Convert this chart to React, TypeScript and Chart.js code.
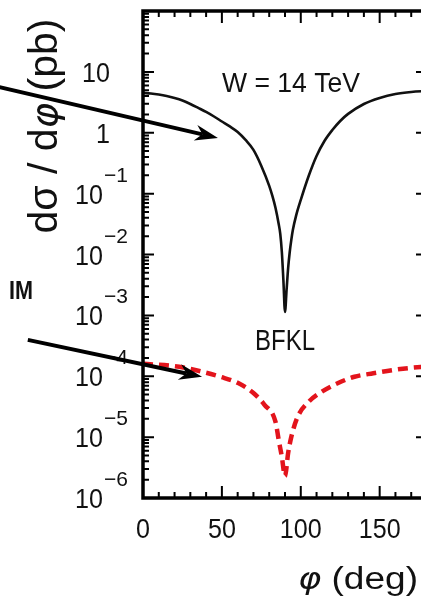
import React, { useEffect, useRef } from "react";
import { Chart, registerables } from "chart.js";

Chart.register(...registerables);

// ---------------- data ----------------
const bfklPhi = [0, 5, 10, 15, 20, 25, 30, 35, 40, 45, 50, 55, 60, 65, 70, 75, 80, 82, 84, 86, 87, 88, 89, 90, 91, 92, 93, 94, 95, 97, 100, 105, 110, 115, 120, 125, 130, 140, 150, 160, 170, 180];
const bfklValues = [4.51, 4.42, 4.25, 4.02, 3.73, 3.39, 2.97, 2.56, 2.2, 1.85, 1.53, 1.27, 1.03, 0.762, 0.522, 0.285, 0.134, 0.0916, 0.0582, 0.0318, 0.0218, 0.011, 0.00369, 0.00114, 0.00262, 0.00603, 0.011, 0.0174, 0.0254, 0.0431, 0.0789, 0.195, 0.416, 0.733, 1.11, 1.56, 2.04, 2.97, 3.73, 4.33, 4.68, 4.86];

const dipPhi = [0, 23, 38, 49, 60, 70, 77, 84, 86, 88, 90, 92, 94, 98, 105, 113, 124, 134, 146, 158, 168, 180];
const dipValues = [1.6e-4, 1.43e-4, 1.18e-4, 9.8e-5, 7.8e-5, 5.3e-5, 3.4e-5, 1.78e-5, 9.0e-6, 4.75e-6, 2.3e-6, 5.5e-6, 1.01e-5, 2.15e-5, 3.8e-5, 5.5e-5, 7.8e-5, 9.8e-5, 1.12e-4, 1.26e-4, 1.36e-4, 1.45e-4];

const xMajorTicks = [0, 50, 100, 150];
const xTickLabels = ["0", "50", "100", "150"];
const xMinorTicks = [10, 20, 30, 40, 60, 70, 80, 90, 110, 120, 130, 140, 160, 170];

const yDecades = [1e-6, 1e-5, 1e-4, 1e-3, 1e-2, 1e-1, 1, 10, 100];
const yLabelValues = [1e-6, 1e-5, 1e-4, 1e-3, 1e-2, 1e-1, 1, 10];
const yLabelBases = ["10", "10", "10", "10", "10", "10", "1", "10"];
const yLabelExps = ["−6", "−5", "−4", "−3", "−2", "−1", "", ""];

// annotations (data coordinates)
const arrowFromPhi = [-94, -73];
const arrowFromVal = [5.87, 3.96e-4];
const arrowToPhi = [47.5, 37.4];
const arrowToVal = [0.82, 9.8e-5];

const FONT = "'Liberation Sans', Arial, sans-serif";
const GREEK = "'DejaVu Sans', sans-serif";

type Part = { t: string; greek?: boolean };

function drawRich(
  ctx: CanvasRenderingContext2D,
  parts: Part[],
  x: number,
  y: number,
  o: { size: number; weight?: string; align?: "left" | "center" | "right"; width?: number; sx?: number; rotate?: number; color?: string }
) {
  ctx.save();
  const fontFor = (p: Part) =>
    p.greek ? `italic ${o.weight || "normal"} ${o.size * 0.95}px ${GREEK}` : `${o.weight || "normal"} ${o.size}px ${FONT}`;
  const widths = parts.map((p) => {
    ctx.font = fontFor(p);
    return ctx.measureText(p.t).width;
  });
  const total = widths.reduce((s, w) => s + w, 0);
  let sx = o.sx || 1;
  if (o.width) sx = o.width / total;
  ctx.translate(x, y);
  if (o.rotate) ctx.rotate(o.rotate);
  ctx.scale(sx, 1);
  let cx = o.align === "center" ? -total / 2 : o.align === "right" ? -total : 0;
  ctx.fillStyle = o.color || "#111";
  ctx.textAlign = "left";
  ctx.textBaseline = "alphabetic";
  parts.forEach((p, i) => {
    ctx.font = fontFor(p);
    ctx.fillText(p.t, cx, 0);
    cx += widths[i];
  });
  ctx.restore();
}

function drawText(
  ctx: CanvasRenderingContext2D,
  str: string,
  x: number,
  y: number,
  o: { size: number; weight?: string; align?: "left" | "center" | "right"; width?: number; sx?: number; rotate?: number; color?: string }
) {
  drawRich(ctx, [{ t: str }], x, y, o);
}

function drawArrow(ctx: CanvasRenderingContext2D, x1: number, y1: number, x2: number, y2: number) {
  const dx = x2 - x1, dy = y2 - y1;
  const len = Math.hypot(dx, dy);
  const ux = dx / len, uy = dy / len;
  const nx = -uy, ny = ux;
  const L = 23, W = 8, notch = 16;
  ctx.save();
  ctx.strokeStyle = "#000";
  ctx.fillStyle = "#000";
  ctx.lineWidth = 4;
  ctx.beginPath();
  ctx.moveTo(x1, y1);
  ctx.lineTo(x2 - ux * notch, y2 - uy * notch);
  ctx.stroke();
  ctx.beginPath();
  ctx.moveTo(x2, y2);
  ctx.lineTo(x2 - ux * L + nx * W, y2 - uy * L + ny * W);
  ctx.lineTo(x2 - ux * notch, y2 - uy * notch);
  ctx.lineTo(x2 - ux * L - nx * W, y2 - uy * L - ny * W);
  ctx.closePath();
  ctx.fill();
  ctx.restore();
}

const decorPlugin = {
  id: "decor",
  afterDraw(chart: any) {
    const { ctx, chartArea: a, scales } = chart;
    const xs = scales.x, ys = scales.y;
    ctx.save();
    ctx.strokeStyle = "#000";
    ctx.lineCap = "butt";

    // y ticks (inward, left & right)
    ctx.lineWidth = 2;
    for (let i = 0; i < yDecades.length; i++) {
      const d = yDecades[i];
      const y = ys.getPixelForValue(d);
      ctx.beginPath();
      ctx.moveTo(a.left, y); ctx.lineTo(a.left + 11, y);
      ctx.moveTo(a.right, y); ctx.lineTo(a.right - 11, y);
      ctx.stroke();
      if (i < yDecades.length - 1) {
        for (let m = 2; m <= 9; m++) {
          const ym = ys.getPixelForValue(d * m);
          ctx.beginPath();
          ctx.moveTo(a.left, ym); ctx.lineTo(a.left + 6, ym);
          ctx.moveTo(a.right, ym); ctx.lineTo(a.right - 6, ym);
          ctx.stroke();
        }
      }
    }
    // x ticks (inward, bottom & top)
    xMajorTicks.forEach((v) => {
      const x = xs.getPixelForValue(v);
      ctx.beginPath();
      ctx.moveTo(x, a.bottom); ctx.lineTo(x, a.bottom - 12);
      ctx.moveTo(x, a.top); ctx.lineTo(x, a.top + 12);
      ctx.stroke();
    });
    xMinorTicks.forEach((v) => {
      const x = xs.getPixelForValue(v);
      ctx.beginPath();
      ctx.moveTo(x, a.bottom); ctx.lineTo(x, a.bottom - 6);
      ctx.moveTo(x, a.top); ctx.lineTo(x, a.top + 6);
      ctx.stroke();
    });

    // frame
    ctx.lineWidth = 3.5;
    ctx.strokeRect(a.left, a.top, a.right - a.left, a.bottom - a.top);
    ctx.restore();

    // x tick labels
    xMajorTicks.forEach((v, i) => {
      drawText(ctx, xTickLabels[i], xs.getPixelForValue(v), a.bottom + 40, { size: 27, align: "center", sx: 0.93 });
    });
    // y tick labels
    yLabelValues.forEach((v, i) => {
      const y = ys.getPixelForValue(v);
      if (yLabelExps[i]) {
        drawText(ctx, yLabelBases[i], a.left - 40, y + 10, { size: 27, align: "right", sx: 0.93 });
        drawText(ctx, yLabelExps[i], a.left - 39, y - 12, { size: 21, align: "left" });
      } else {
        drawText(ctx, yLabelBases[i], a.left - 33, y + 10, { size: 27, align: "right", sx: 0.93 });
      }
    });

    // axis titles
    drawRich(ctx, [{ t: "dσ / d" }, { t: "φ", greek: true }, { t: " (pb)" }], 57, 126, {
      size: 40, align: "center", rotate: -Math.PI / 2, width: 215,
    });
    drawRich(ctx, [{ t: "φ", greek: true }, { t: " (deg)" }], a.left + 155, a.bottom + 91, { size: 31, align: "left", width: 120 });

    // annotations
    drawText(ctx, "W = 14 TeV", xs.getPixelForValue(93.8), ys.getPixelForValue(6.8) + 10, { size: 28, align: "center", width: 138 });
    drawText(ctx, "BFKL", xs.getPixelForValue(90), ys.getPixelForValue(4.1e-4) + 11, { size: 30, align: "center", width: 60 });
    drawText(ctx, "IM", 33, 299, { size: 26, weight: "bold", align: "right", width: 24 });

    for (let i = 0; i < arrowFromPhi.length; i++) {
      drawArrow(
        ctx,
        xs.getPixelForValue(arrowFromPhi[i]),
        ys.getPixelForValue(arrowFromVal[i]),
        xs.getPixelForValue(arrowToPhi[i]),
        ys.getPixelForValue(arrowToVal[i])
      );
    }
  },
};

export default function App() {
  const ref = useRef<HTMLCanvasElement>(null);
  useEffect(() => {
    if (!ref.current) return;
    const chart = new Chart(ref.current, {
      type: "line",
      data: {
        datasets: [
          {
            label: "BFKL",
            data: bfklPhi.map((p, i) => ({ x: p, y: bfklValues[i] })),
            borderColor: "#111",
            borderWidth: 2.6,
            pointRadius: 0,
            cubicInterpolationMode: "monotone",
            fill: false,
          },
          {
            label: "dip",
            data: dipPhi.map((p, i) => ({ x: p, y: dipValues[i] })),
            borderColor: "#e3141c",
            borderWidth: 4.5,
            borderDash: [10, 6],
            pointRadius: 0,
            cubicInterpolationMode: "monotone",
            fill: false,
          },
        ],
      },
      options: {
        animation: false,
        responsive: false,
        devicePixelRatio: 1,
        layout: { padding: { left: 143, top: 11, right: 13, bottom: 103 } },
        scales: {
          x: { type: "linear", min: 0, max: 180, display: false },
          y: { type: "logarithmic", min: 1e-6, max: 100, display: false },
        },
        plugins: { legend: { display: false }, tooltip: { enabled: false } },
      },
      plugins: [decorPlugin],
    });
    return () => chart.destroy();
  }, []);
  return (
    <div style={{ position: "fixed", left: 0, top: 0, width: 421, height: 601, overflow: "hidden", background: "#fff" }}>
      <canvas ref={ref} width={440} height={601} style={{ display: "block", width: 440, height: 601 }} />
    </div>
  );
}
